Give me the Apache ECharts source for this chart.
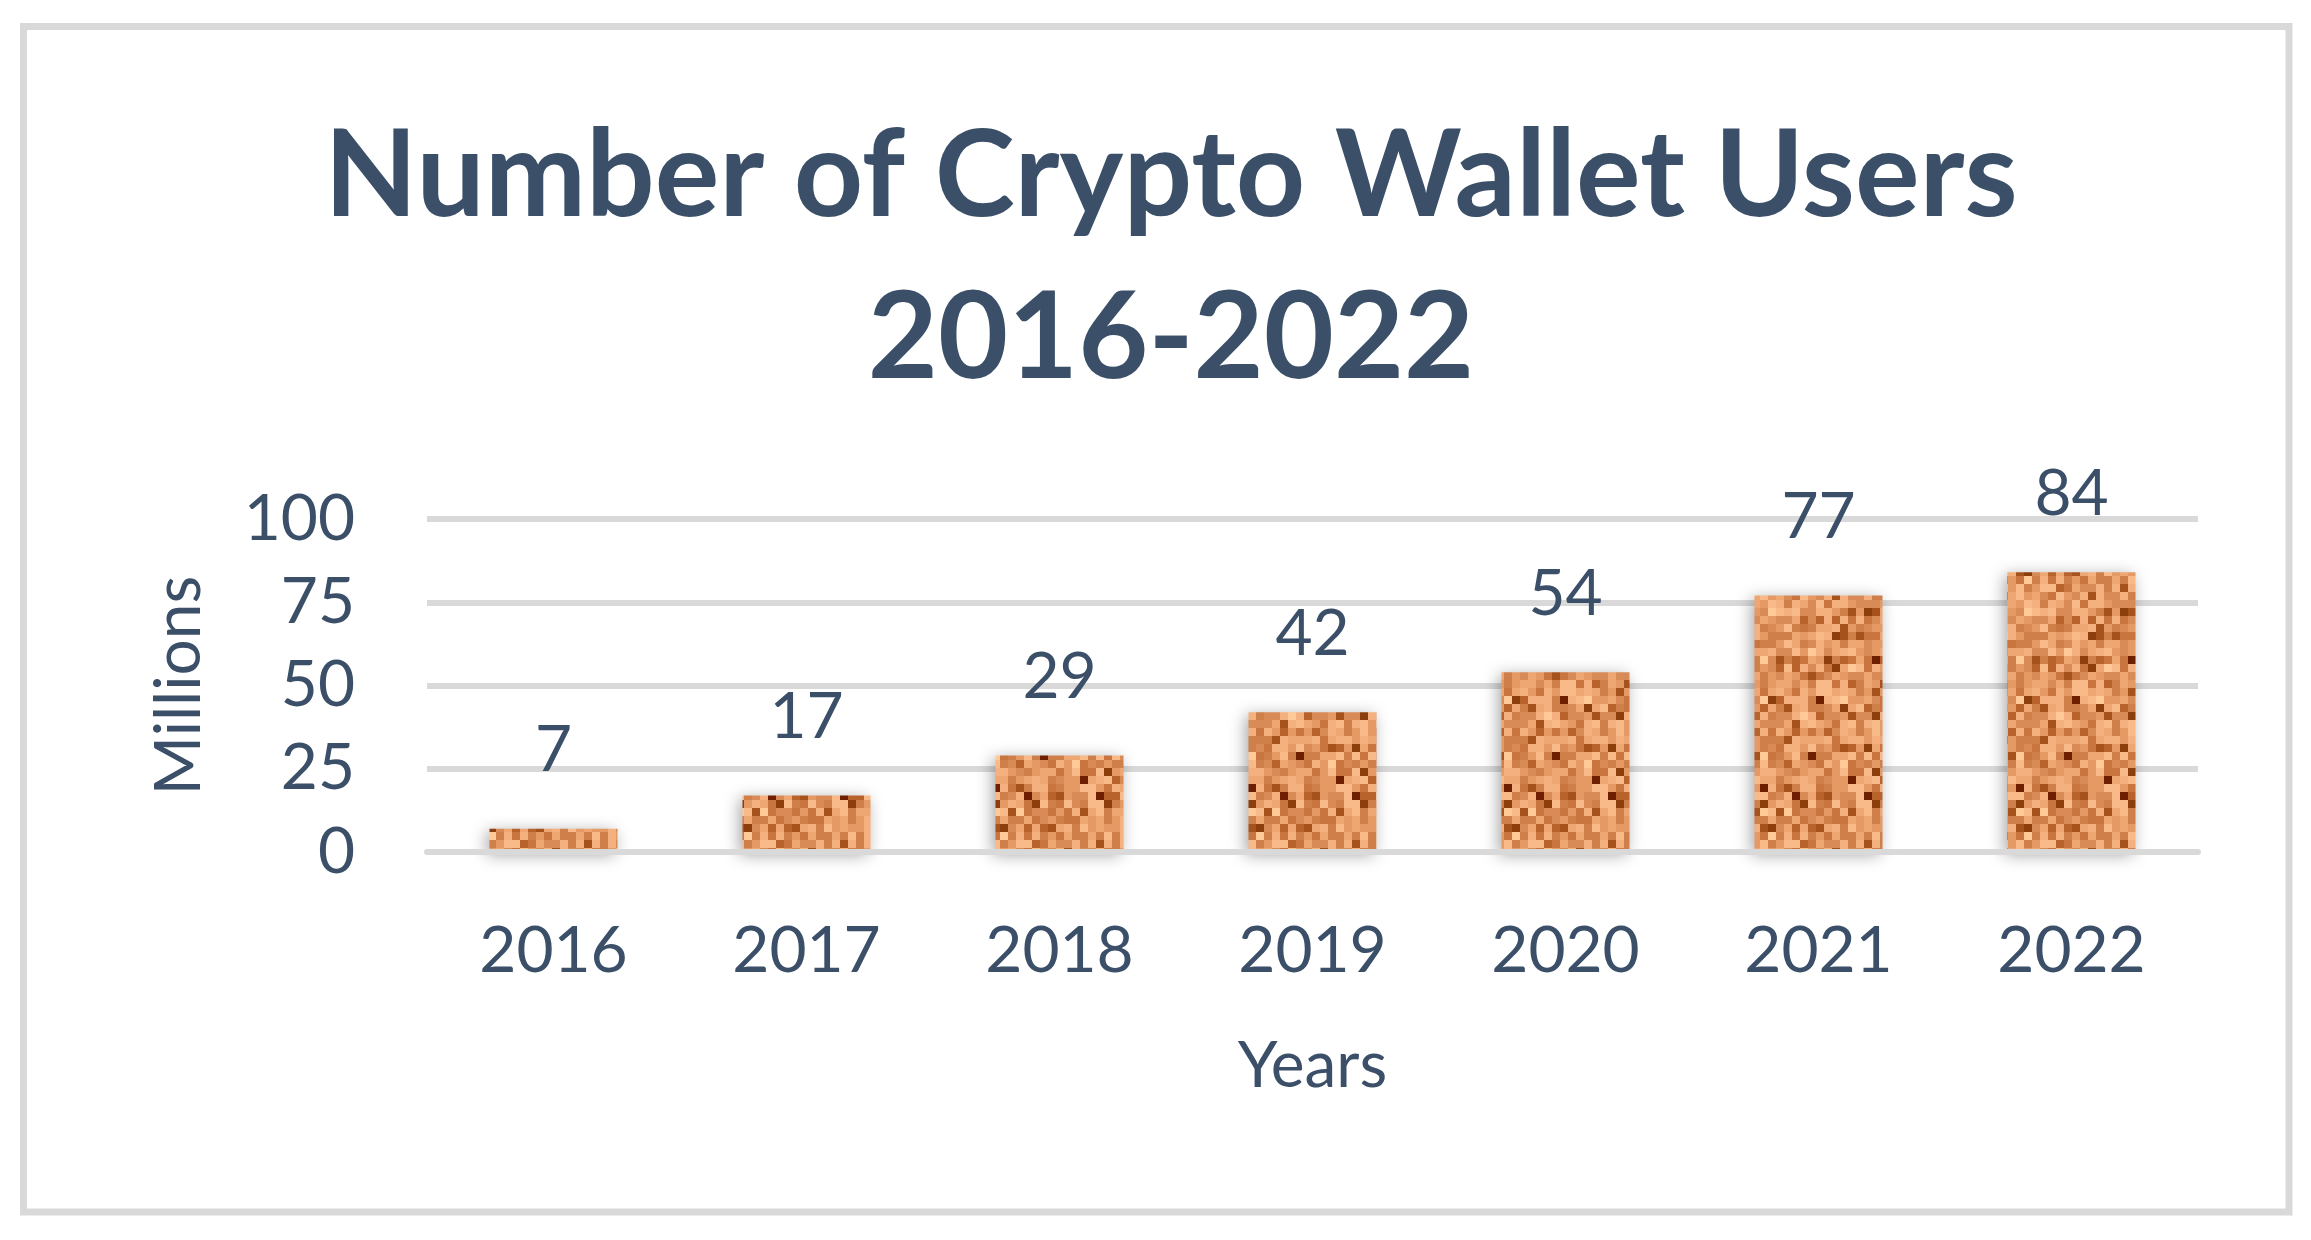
<!DOCTYPE html>
<html>
<head>
<meta charset="utf-8">
<title>Number of Crypto Wallet Users 2016-2022</title>
<script src="https://cdn.jsdelivr.net/npm/echarts@6/dist/echarts.min.js"></script>
<style>
  html, body { margin: 0; padding: 0; background: #fff; }
  #chart { width: 2311px; height: 1240px; }
</style>
</head>
<body>
<div id="chart"></div>
<script>
// data
var years = ['2016', '2017', '2018', '2019', '2020', '2021', '2022'];
var users = [7, 17, 29, 42, 54, 77, 84]; // millions
var yTicks = [0, 25, 50, 75, 100];

var textColor = '#3b5068';
var gridColor = '#d9d9d9';
var font = 'Lato, "Open Sans", sans-serif';

// pixelated cork-like texture for the bars (fixed seed so it is the same every run)
function makeTexture() {
  var cell = 8, n = 32;
  var cvs = document.createElement('canvas');
  cvs.width = cvs.height = cell * n;
  var ctx = cvs.getContext('2d');
  var palette = ['#e59a66', '#eea673', '#f4b07e', '#d98b57', '#cf7f4a', '#c87540',
                 '#f8ba88', '#b8622c', '#a5521d', '#ffc998', '#8c3f0c', '#6e1f00'];
  var weights = [15, 14, 12, 12, 10, 8, 7, 6, 4, 3, 2, 1];
  var total = weights.reduce(function (a, b) { return a + b; }, 0);
  var seed = 12345;
  function rnd() {
    seed = (seed * 1103515245 + 12345) % 2147483648;
    return seed / 2147483648;
  }
  for (var i = 0; i < n; i++) {
    for (var j = 0; j < n; j++) {
      var r = rnd() * total, k = 0;
      while (r > weights[k]) { r -= weights[k]; k++; }
      ctx.fillStyle = palette[k];
      ctx.fillRect(i * cell, j * cell, cell, cell);
    }
  }
  return cvs;
}

var chart = echarts.init(document.getElementById('chart'), null, { renderer: 'canvas' });

var option = {
  backgroundColor: '#fff',
  animation: false,
  title: {
    text: 'Number of Crypto Wallet Users\n2016-2022',
    left: 1166,
    top: 91,
    textAlign: 'center',
    textStyle: {
      fontFamily: font,
      fontSize: 121,
      fontWeight: 'bold',
      color: textColor,
      lineHeight: 162
    }
  },
  graphic: [{
    type: 'rect',
    shape: { x: 23.5, y: 26.5, width: 2265.5, height: 1185.5 },
    style: { fill: null, stroke: gridColor, lineWidth: 7 },
    silent: true
  }],
  grid: { left: 427, right: 113, top: 519, height: 333 },
  xAxis: {
    type: 'category',
    data: years,
    z: 3,
    name: 'Years',
    nameLocation: 'middle',
    nameGap: 182,
    nameTextStyle: { fontFamily: font, fontSize: 64, color: textColor },
    axisLine: { show: true, lineStyle: { color: gridColor, width: 6 } },
    axisTick: { show: false },
    axisLabel: { margin: 67, fontFamily: font, fontSize: 64, color: textColor }
  },
  yAxis: {
    type: 'value',
    min: 0,
    max: 100,
    interval: 25,
    name: 'Millions',
    nameLocation: 'middle',
    nameRotate: 90,
    nameGap: 216,
    nameTextStyle: { fontFamily: font, fontSize: 64, color: textColor },
    axisLine: { show: false },
    axisTick: { show: false },
    axisLabel: {
      margin: 72,
      fontFamily: font,
      fontSize: 64,
      color: textColor,
      formatter: function (v) { return yTicks.indexOf(v) >= 0 ? String(v) : ''; }
    },
    splitLine: { lineStyle: { color: gridColor, width: 6 } }
  },
  series: [{
    type: 'bar',
    data: users,
    barWidth: '50.6%',
    itemStyle: {
      color: { image: makeTexture(), repeat: 'repeat' },
      shadowBlur: 16,
      shadowColor: 'rgba(0,0,0,0.35)',
      shadowOffsetX: -3,
      shadowOffsetY: 3
    },
    label: {
      show: true,
      position: 'top',
      distance: 46,
      fontFamily: font,
      fontSize: 64,
      color: textColor
    }
  }]
};

chart.setOption(option);
</script>
</body>
</html>
